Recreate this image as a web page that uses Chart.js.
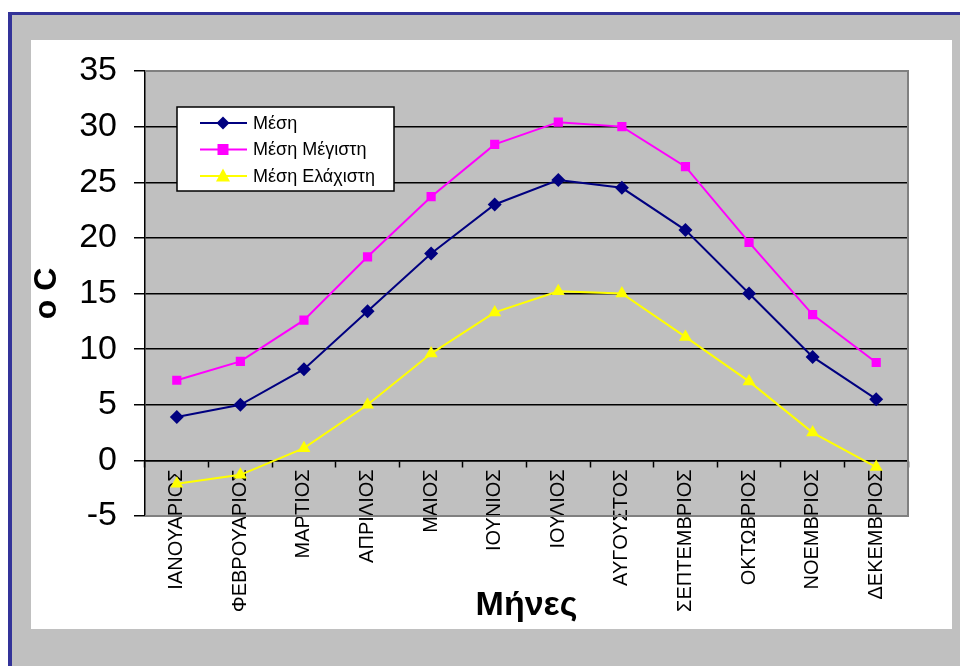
<!DOCTYPE html>
<html>
<head>
<meta charset="utf-8">
<script src="https://cdn.jsdelivr.net/npm/chart.js@4"></script>
<style>
  body { margin: 0; background: #fff; }
  #frame {
    position: absolute; left: 8px; top: 12px; width: 948px; height: 651px;
    background: #c0c0c0; border-top: 3px solid #333399; border-left: 4px solid #333399;
  }
  #panel {
    position: absolute; left: 31px; top: 40px; width: 921px; height: 589px; background: #fff;
  }
</style>
</head>
<body>
<div id="frame"></div>
<div id="panel"><canvas id="tempChart" width="921" height="589"></canvas></div>
<script>
const months = ['ΙΑΝΟΥΑΡΙΟΣ', 'ΦΕΒΡΟΥΑΡΙΟΣ', 'ΜΑΡΤΙΟΣ', 'ΑΠΡΙΛΙΟΣ', 'ΜΑΙΟΣ', 'ΙΟΥΝΙΟΣ',
    'ΙΟΥΛΙΟΣ', 'ΑΥΓΟΥΣΤΟΣ', 'ΣΕΠΤΕΜΒΡΙΟΣ', 'ΟΚΤΩΒΡΙΟΣ', 'ΝΟΕΜΒΡΙΟΣ', 'ΔΕΚΕΜΒΡΙΟΣ'];
const meanTemp = [3.9, 5.0, 8.2, 13.4, 18.6, 23.0, 25.2, 24.5, 20.7, 15.0, 9.3, 5.5];
const meanMax = [7.2, 8.9, 12.6, 18.3, 23.7, 28.4, 30.4, 30.0, 26.4, 19.6, 13.1, 8.8];
const meanMin = [-2.1, -1.3, 1.1, 5.0, 9.6, 13.3, 15.2, 15.0, 11.1, 7.1, 2.5, -0.6];
const yMin = -5, yMax = 35, yStep = 5;

const font = 'Liberation Sans, Arial, sans-serif';

// grey plot area with grey frame (excel style)
const plotBg = {
    id: 'plotBg',
    beforeDraw(chart) {
        const { ctx, chartArea: a } = chart;
        ctx.save();
        ctx.fillStyle = '#c0c0c0';
        ctx.fillRect(a.left, a.top, a.right - a.left, a.bottom - a.top);
        ctx.restore();
    },
    beforeDatasetsDraw(chart) {
        const { ctx, chartArea: a } = chart;
        ctx.save();
        ctx.strokeStyle = '#808080';
        ctx.lineWidth = 2;
        ctx.beginPath();
        ctx.moveTo(a.left, a.top);
        ctx.lineTo(a.right, a.top);
        ctx.lineTo(a.right, a.bottom);
        ctx.lineTo(a.left, a.bottom);
        ctx.stroke();
        ctx.restore();
    }
};

// boxed legend inside the plot
const boxLegend = {
    id: 'boxLegend',
    afterDraw(chart) {
        const { ctx, chartArea: a } = chart;
        const x = a.left + 32, y = a.top + 36, w = 217, h = 84;
        ctx.save();
        ctx.fillStyle = '#fff';
        ctx.fillRect(x, y, w, h);
        ctx.strokeStyle = '#000';
        ctx.lineWidth = 1.5;
        ctx.strokeRect(x, y, w, h);
        ctx.font = '18px ' + font;
        ctx.textBaseline = 'middle';
        chart.data.datasets.forEach((ds, i) => {
            const ry = y + 16 + i * 26.5;
            ctx.strokeStyle = ds.borderColor;
            ctx.lineWidth = 2;
            ctx.beginPath();
            ctx.moveTo(x + 23, ry);
            ctx.lineTo(x + 70, ry);
            ctx.stroke();
            ctx.fillStyle = ds.borderColor;
            const r = 6.5;
            ctx.beginPath();
            if (ds.pointStyle === 'rectRot') {
                ctx.moveTo(x + 46, ry - r); ctx.lineTo(x + 46 + r, ry);
                ctx.lineTo(x + 46, ry + r); ctx.lineTo(x + 46 - r, ry);
            } else if (ds.pointStyle === 'rect') {
                ctx.rect(x + 46 - 5.5, ry - 5.5, 11, 11);
            } else {
                ctx.moveTo(x + 46, ry - 7.5); ctx.lineTo(x + 46 + 7, ry + 5.5);
                ctx.lineTo(x + 46 - 7, ry + 5.5);
            }
            ctx.closePath();
            ctx.fill();
            ctx.fillStyle = '#000';
            ctx.fillText(ds.label, x + 76, ry + 1);
        });
        ctx.restore();
    }
};

new Chart(document.getElementById('tempChart'), {
    type: 'line',
    data: {
        labels: months,
        datasets: [{
            label: 'Μέση',
            data: meanTemp,
            borderColor: '#000080',
            backgroundColor: '#000080',
            pointStyle: 'rectRot',
            pointRadius: 7
        }, {
            label: 'Μέση Μέγιστη',
            data: meanMax,
            borderColor: '#ff00ff',
            backgroundColor: '#ff00ff',
            pointStyle: 'rect',
            pointRadius: 6.5
        }, {
            label: 'Μέση Ελάχιστη',
            data: meanMin,
            borderColor: '#ffff00',
            backgroundColor: '#ffff00',
            pointStyle: 'triangle',
            pointRadius: 7.5
        }]
    },
    options: {
        responsive: false,
        animation: false,
        elements: { line: { borderWidth: 2, tension: 0 }, point: { borderWidth: 0 } },
        layout: { padding: { top: 31, right: 44, bottom: 113, left: 0 } },
        plugins: { legend: { display: false }, tooltip: { enabled: false } },
        scales: {
            x: {
                position: { y: 0 },
                offset: true,
                grid: { offset: true, drawOnChartArea: false, tickLength: 6, tickColor: '#000', tickWidth: 1.5 },
                border: { color: '#000', width: 1.5 },
                ticks: { color: '#000', font: { family: font, size: 20 }, minRotation: 90, maxRotation: 90, autoSkip: false, padding: 3 },
                title: { display: true, text: 'Μήνες', color: '#000', font: { family: font, size: 34, weight: 'bold', lineHeight: 1 }, padding: 0 },
                afterFit(scale) { scale.height = 162; }
            },
            y: {
                min: yMin,
                max: yMax,
                grid: {
                    color: ctx => (ctx.tick && (ctx.tick.value === yMin || ctx.tick.value === yMax)) ? 'rgba(0,0,0,0)' : '#000',
                    lineWidth: 1.5,
                    tickLength: 11,
                    tickColor: '#000'
                },
                border: { color: '#000', width: 1.5 },
                ticks: { stepSize: yStep, color: '#000', font: { family: font, size: 34 }, padding: 17 },
                title: { display: true, text: 'o C', color: '#000', font: { family: font, size: 32, weight: 'bold', lineHeight: 1 }, padding: 0 },
                afterFit(scale) {
                    scale.width = 114;
                    scale.paddingTop = 0;
                    scale.paddingBottom = 0;
                }
            }
        }
    },
    plugins: [plotBg, boxLegend]
});
</script>
</body>
</html>
